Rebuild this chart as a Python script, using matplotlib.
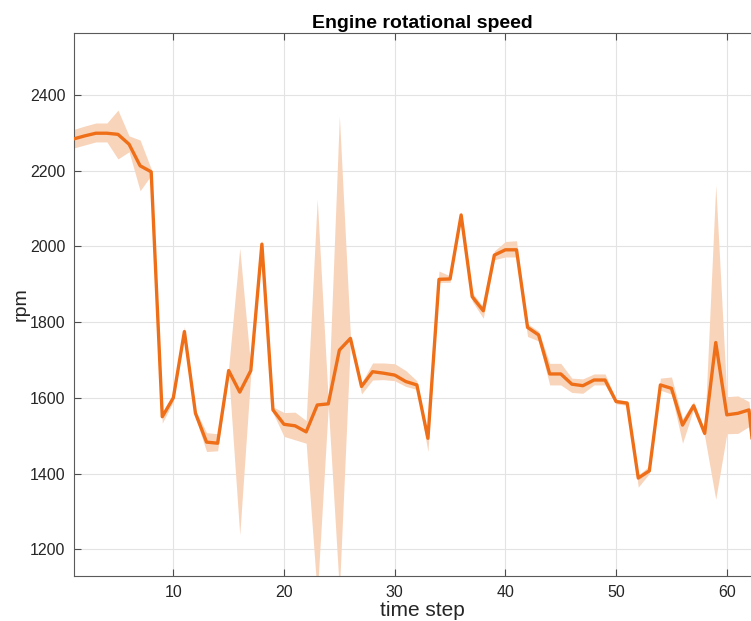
"""
Engine rotational speed per time step, mean line with a shaded spread band.
"""
import matplotlib.pyplot as plt

# time steps (the figure is cropped on the right, so the last point sits off-canvas)
steps = list(range(1, 64))

rpm_mean = [
    2284, 2292, 2299, 2299, 2296, 2270, 2213, 2197, 1550, 1600,
    1775, 1559, 1483, 1480, 1672, 1615, 1672, 2006, 1568, 1530,
    1526, 1510, 1581, 1584, 1726, 1757, 1630, 1669, 1665, 1660,
    1643, 1634, 1493, 1913, 1914, 2083, 1867, 1830, 1977, 1991,
    1991, 1786, 1766, 1663, 1663, 1636, 1632, 1647, 1647, 1590,
    1586, 1388, 1407, 1634, 1625, 1528, 1579, 1506, 1746, 1555,
    1559, 1568, 1300,
]
rpm_upper = [
    2309, 2318, 2326, 2326, 2360, 2292, 2281, 2205, 1558, 1608,
    1788, 1568, 1508, 1505, 1680, 1995, 1680, 2017, 1576, 1561,
    1562, 1540, 2125, 1590, 2345, 1762, 1640, 1692, 1692, 1690,
    1672, 1645, 1500, 1935, 1922, 2092, 1878, 1840, 1988, 2013,
    2015, 1796, 1776, 1691, 1691, 1652, 1650, 1663, 1663, 1596,
    1592, 1396, 1420, 1652, 1655, 1545, 1590, 1515, 2162, 1603,
    1605, 1590, 1320,
]
rpm_lower = [
    2260, 2268, 2276, 2276, 2231, 2250, 2147, 2188, 1533, 1590,
    1765, 1548, 1458, 1460, 1664, 1238, 1664, 1995, 1560, 1498,
    1489, 1480, 1080, 1578, 1090, 1752, 1610, 1647, 1648, 1645,
    1630, 1622, 1458, 1905, 1905, 2074, 1855, 1810, 1965, 1972,
    1972, 1762, 1750, 1634, 1634, 1614, 1612, 1634, 1634, 1584,
    1580, 1364, 1400, 1620, 1610, 1480, 1570, 1498, 1332, 1505,
    1506, 1524, 1280,
]

x_ticks = [10, 20, 30, 40, 50, 60]
y_ticks = [1200, 1400, 1600, 1800, 2000, 2200, 2400]

plt.rcParams["font.family"] = ["Liberation Sans", "DejaVu Sans"]

fig = plt.figure(figsize=(7.51, 6.21), dpi=100)
# axes runs past the right edge of the canvas, like the cropped original
ax = fig.add_axes([73.7 / 751, 45.3 / 621, 697.4 / 751, 542.4 / 621])

ax.fill_between(steps, rpm_lower, rpm_upper, color="#f8d4bb", linewidth=0, zorder=2)
ax.plot(steps, rpm_mean, color="#ee6f18", linewidth=2.4, zorder=3)

ax.set_xlim(1, 64)
ax.set_ylim(1130, 2563)
ax.set_xticks(x_ticks)
ax.set_yticks(y_ticks)

ax.grid(True, color="#e3e3e3", linewidth=0.8, zorder=0)
ax.set_axisbelow(True)
ax.tick_params(direction="in", length=5, width=0.8, colors="#4d4d4d",
               labelcolor="#262626", labelsize=11.5, top=True)
ax.tick_params(axis="x", pad=7)
ax.tick_params(axis="y", pad=6)
for side in ["left", "bottom", "top", "right"]:
    ax.spines[side].set_color("#5a5a5a")
    ax.spines[side].set_linewidth(0.8)

ax.set_title("Engine rotational speed", fontsize=14, fontweight="bold",
             color="#000000", pad=4)
ax.set_xlabel("time step", fontsize=15, color="#262626", labelpad=0.5)
ax.set_ylabel("rpm", fontsize=14, color="#262626", labelpad=0)

plt.savefig("out.png", dpi=100)
plt.close()
